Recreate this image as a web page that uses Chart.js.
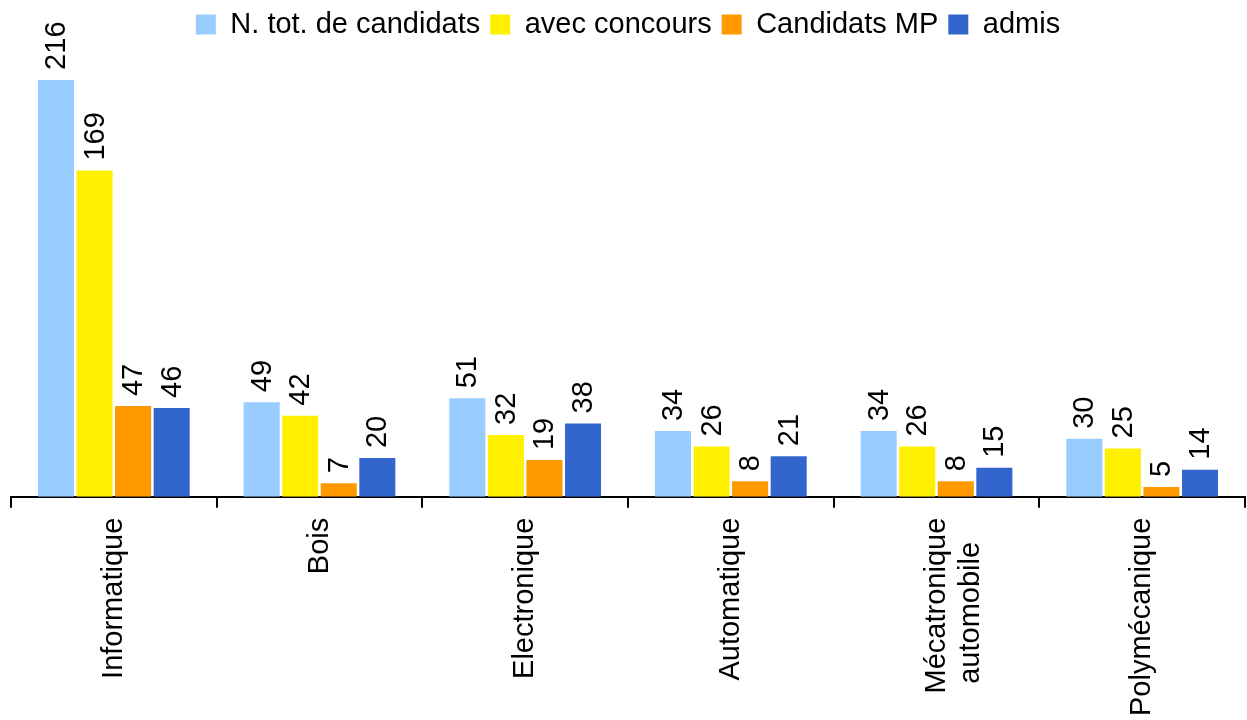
<!DOCTYPE html>
<html>
<head>
<meta charset="utf-8">
<script src="https://cdn.jsdelivr.net/npm/chart.js@4"></script>
<style>
html,body{margin:0;padding:0;background:#fff;}
#wrap{width:1247px;height:720px;position:relative;}
</style>
</head>
<body>
<div id="wrap"><canvas id="c"></canvas></div>
<script>
const categories = ['Informatique', 'Bois', 'Electronique', 'Automatique', ['Mécatronique', 'automobile   '], 'Polymécanique'];
const seriesNames = ['N. tot. de candidats', 'avec concours', 'Candidats MP', 'admis'];
const totalCandidats = [216, 49, 51, 34, 34, 30];
const avecConcours = [169, 42, 32, 26, 26, 25];
const candidatsMP = [47, 7, 19, 8, 8, 5];
const admis = [46, 20, 38, 21, 15, 14];
const colors = ['#99CCFF', '#FFF000', '#FF9900', '#3366CC'];

const FONT = '"Liberation Sans", Arial, sans-serif';

const valueLabels = {
  id: 'valueLabels',
  afterDatasetsDraw(chart) {
    const ctx = chart.ctx;
    ctx.save();
    ctx.font = '29px ' + FONT;
    ctx.fillStyle = '#000';
    ctx.textAlign = 'left';
    ctx.textBaseline = 'middle';
    chart.data.datasets.forEach((ds, i) => {
      const meta = chart.getDatasetMeta(i);
      meta.data.forEach((bar, j) => {
        ctx.save();
        ctx.translate(bar.x, bar.y - 10);
        ctx.rotate(-Math.PI / 2);
        ctx.fillText(String(ds.data[j]), 0, 1);
        ctx.restore();
      });
    });
    ctx.restore();
  }
};

const dataSets = [totalCandidats, avecConcours, candidatsMP, admis].map((d, i) => ({
  label: seriesNames[i],
  data: d,
  backgroundColor: colors[i],
  borderWidth: 0,
  barPercentage: 0.935,
  categoryPercentage: 0.75
}));

new Chart(document.getElementById('c'), {
  type: 'bar',
  data: { labels: categories, datasets: dataSets },
  plugins: [valueLabels],
  options: {
    responsive: true,
    maintainAspectRatio: false,
    animation: false,
    layout: { padding: { left: 11, right: 2, top: 0, bottom: -6 } },
    plugins: {
      legend: {
        position: 'top',
        labels: {
          font: { family: FONT, size: 29 },
          color: '#000',
          boxWidth: 20,
          boxHeight: 20,
          padding: 10
        }
      },
      tooltip: { enabled: false }
    },
    scales: {
      x: {
        border: { display: true, color: '#000', width: 2 },
        grid: { display: true, drawOnChartArea: false, drawTicks: true, tickLength: 11, color: '#000', lineWidth: 2 },
        ticks: {
          font: { family: FONT, size: 29, lineHeight: 1.2 },
          color: '#000',
          maxRotation: 90,
          minRotation: 90,
          padding: 10
        }
      },
      y: {
        display: false,
        min: 0,
        max: 232
      }
    }
  }
});
</script>
</body>
</html>
